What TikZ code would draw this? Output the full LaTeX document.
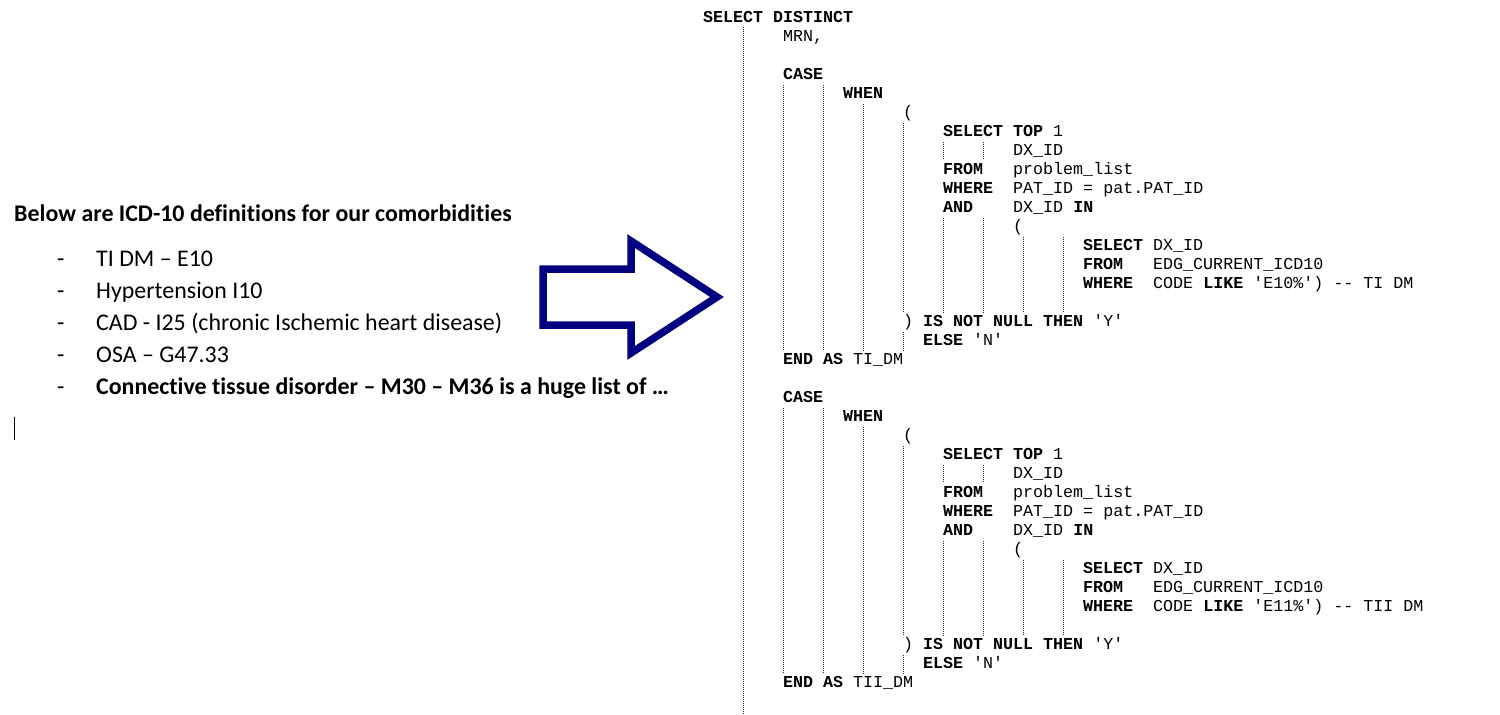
\documentclass[tikz,border=0pt]{standalone}
\usepackage{fontspec}
\setmainfont{Carlito}
\newfontfamily\codefont{Liberation Mono}[Ligatures=TeXOff]
\newfontfamily\bodyfont{Carlito}[Ligatures=NoCommon]
\newcommand\K[1]{\textbf{#1}}
\definecolor{navyarrow}{RGB}{0,0,128}
\tikzset{
  codeln/.style={anchor=base west, inner sep=0pt, font=\codefont\fontsize{16.67}{19}\selectfont},
  bodyln/.style={anchor=base west, inner sep=0pt, font=\bodyfont\fontsize{23.9}{28}\selectfont},
  guide/.style={line width=1pt, dash pattern=on 1pt off 1pt, black!85},
  bigarrow/.style={draw=navyarrow, line width=7.5pt, miter limit=10, line join=miter, fill=white},
  cursorln/.style={line width=1pt, black}
}
\begin{document}
\begin{tikzpicture}[x=1pt,y=-1pt]
\useasboundingbox (0,0) rectangle (1500,715);
% ---------- left text ----------
\node[bodyln] (hdr) at (14,221) {\textbf{Below are ICD-10 definitions for our comorbidities}};
\node[bodyln] (d1) at (57,266) {-};
\node[bodyln] (i1) at (96,266) {TI DM – E10};
\node[bodyln] (d2) at (57,298) {-};
\node[bodyln] (i2) at (96,298) {Hypertension I10};
\node[bodyln] (d3) at (57,330) {-};
\node[bodyln] (i3) at (96,330) {CAD - I25 (chronic Ischemic heart disease)};
\node[bodyln] (d4) at (57,362) {-};
\node[bodyln] (i4) at (96,362) {OSA – G47.33};
\node[bodyln] (d5) at (57,394) {-};
\node[bodyln] (i5) at (96,394) {\textbf{Connective tissue disorder – M30 – M36 is a huge list of …}};
\draw[cursorln] (14,417) -- (14,440);
% ---------- arrow ----------
\draw[bigarrow] (543,269) -- (631,269) -- (631,241) -- (717,297) -- (631,353) -- (631,325) -- (543,325) -- cycle;
% ---------- code ----------
\node[codeln] (c0) at (703,22) {\K{SELECT DISTINCT}};
\node[codeln] (c1) at (783,41) {MRN,};
\draw[guide] (743,27) -- (743,715);
\foreach \r/\cd/\cm/\al in {3/E10/TI DM/TI\_DM, 20/E11/TII DM/TII\_DM}{
  \node[codeln] (case\r) at (783,{22+19*\r}) {\K{CASE}};
  \node[codeln] (when\r) at (843,{22+19*(\r+1)}) {\K{WHEN}};
  \node[codeln] (po\r) at (903,{22+19*(\r+2)}) {(};
  \node[codeln] (sel\r) at (943,{22+19*(\r+3)}) {\K{SELECT TOP} 1};
  \node[codeln] (dx\r) at (1013,{22+19*(\r+4)}) {DX\_ID};
  \node[codeln] (from\r) at (943,{22+19*(\r+5)}) {\K{FROM}~~~problem\_list};
  \node[codeln] (where\r) at (943,{22+19*(\r+6)}) {\K{WHERE}~~PAT\_ID = pat.PAT\_ID};
  \node[codeln] (and\r) at (943,{22+19*(\r+7)}) {\K{AND}~~~~DX\_ID \K{IN}};
  \node[codeln] (pi\r) at (1013,{22+19*(\r+8)}) {(};
  \node[codeln] (isel\r) at (1083,{22+19*(\r+9)}) {\K{SELECT} DX\_ID};
  \node[codeln] (ifrom\r) at (1083,{22+19*(\r+10)}) {\K{FROM}~~~EDG\_CURRENT\_ICD10};
  \node[codeln] (iwhere\r) at (1083,{22+19*(\r+11)}) {\K{WHERE}~~CODE \K{LIKE} '\cd\%') -{}- \cm};
  \node[codeln] (pc\r) at (903,{22+19*(\r+13)}) {) \K{IS NOT NULL THEN} 'Y'};
  \node[codeln] (else\r) at (923,{22+19*(\r+14)}) {\K{ELSE} 'N'};
  \node[codeln] (end\r) at (783,{22+19*(\r+15)}) {\K{END AS} \al};
  % guides
  \draw[guide] (783,{22+19*\r+6}) -- (783,{22+19*(\r+15)-13});
  \draw[guide] (823,{22+19*\r+6}) -- (823,{22+19*(\r+15)-13});
  \draw[guide] (863,{22+19*(\r+1)+6}) -- (863,{22+19*(\r+15)-13});
  \draw[guide] (903,{22+19*(\r+2)+6}) -- (903,{22+19*(\r+13)-13});
  \draw[guide] (903,{22+19*(\r+13)+6}) -- (903,{22+19*(\r+15)-13});
  \draw[guide] (943,{22+19*(\r+3)+6}) -- (943,{22+19*(\r+4)+4});
  \draw[guide] (983,{22+19*(\r+3)+6}) -- (983,{22+19*(\r+4)+4});
  \draw[guide] (943,{22+19*(\r+7)+6}) -- (943,{22+19*(\r+13)-13});
  \draw[guide] (983,{22+19*(\r+7)+6}) -- (983,{22+19*(\r+13)-13});
  \draw[guide] (1023,{22+19*(\r+8)+6}) -- (1023,{22+19*(\r+13)-13});
  \draw[guide] (1063,{22+19*(\r+8)+6}) -- (1063,{22+19*(\r+13)-13});
}
\end{tikzpicture}
\end{document}
